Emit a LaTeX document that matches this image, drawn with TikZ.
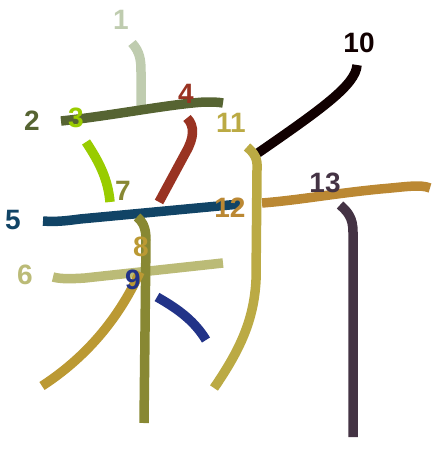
\documentclass[tikz,border=0pt]{standalone}
\usepackage{fontspec}
\setmainfont{Liberation Sans}
\begin{document}
\begin{tikzpicture}[x=1pt,y=-1pt,
  stk/.style={line width=9.5pt,line cap=butt,line join=round},
  lbl/.style={font=\fontsize{28}{28}\selectfont\bfseries,inner sep=0pt}]
\definecolor{c1}{HTML}{BFCCAF}
\definecolor{c2}{HTML}{566432}
\definecolor{c3}{HTML}{99CC00}
\definecolor{c4}{HTML}{993322}
\definecolor{c5}{HTML}{114466}
\definecolor{c6}{HTML}{BBBB77}
\definecolor{c7}{HTML}{888833}
\definecolor{c8}{HTML}{BB9933}
\definecolor{c9}{HTML}{223388}
\definecolor{c10}{HTML}{110000}
\definecolor{c11}{HTML}{BBAA44}
\definecolor{c12}{HTML}{BB8833}
\definecolor{c13}{HTML}{443344}
\useasboundingbox (0,0) rectangle (445,455);
% strokes
\draw[stk,c1] (132,43) .. controls (140,52) and (141,60) .. (141,72) -- (141,109);
\draw[stk,c2] (61,121) .. controls (110,116) and (170,104) .. (205,102) .. controls (212,102) and (218,102) .. (223,103);
\draw[stk,c3] (86,142) .. controls (100,163) and (108,180) .. (110,202);
\draw[stk,c4] (187,118) .. controls (195,126) and (194,138) .. (186,152) -- (159,202);
\draw[stk,c5] (43,221) .. controls (55,222) and (65,221) .. (80,219) -- (240,204);
\draw[stk,c6] (53,277) .. controls (60,279) and (70,279) .. (85,278) -- (223,263);
\draw[stk,c7] (137,217) .. controls (143,222) and (146,228) .. (146,240) -- (144,423);
\draw[stk,c8] (140,272) .. controls (118,320) and (85,358) .. (42,386);
\draw[stk,c9] (157,297) .. controls (180,310) and (195,322) .. (206,340);
\draw[stk,c10] (357,65) .. controls (356,85) and (320,110) .. (258,153);
\draw[stk,c11] (247,147) .. controls (254,153) and (258,158) .. (257,170) -- (256,280) .. controls (254,320) and (240,350) .. (214,388);
\draw[stk,c12] (262,203) .. controls (300,200) and (330,194) .. (380,189) .. controls (405,187) and (420,184) .. (430,188);
\draw[stk,c13] (340,205) .. controls (348,212) and (353,218) .. (353,232) -- (353,437);
% labels
\node[lbl,c1] (n1) at (121,20) {1};
\node[lbl,c2] (n2) at (32,121) {2};
\node[lbl,c3] (n3) at (76,118) {3};
\node[lbl,c4] (n4) at (186,94) {4};
\node[lbl,c5] (n5) at (13,220) {5};
\node[lbl,c6] (n6) at (25,275) {6};
\node[lbl,c7] (n7) at (123,191) {7};
\node[lbl,c8] (n8) at (141,247) {8};
\node[lbl,c9] (n9) at (133,280) {9};
\node[lbl,c10] (n10) at (359,43) {10};
\node[lbl,c11] (n11) at (231,123) {11};
\node[lbl,c12] (n12) at (230,208) {12};
\node[lbl,c13] (n13) at (325,183) {13};
\end{tikzpicture}
\end{document}
